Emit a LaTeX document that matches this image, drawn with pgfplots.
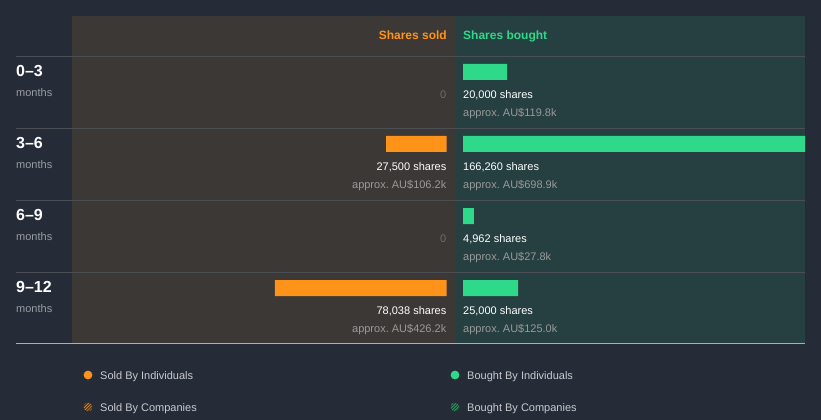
\documentclass[border=0pt]{standalone}
\usepackage{pgfplots}
\pgfplotsset{compat=1.18}
\usepackage{pgfplotstable}
\usepackage{fontspec}
\setmainfont{Liberation Sans}
\usetikzlibrary{patterns}
\frenchspacing
\definecolor{bg}{HTML}{262B38}
\definecolor{soldpanel}{HTML}{3C3835}
\definecolor{boughtpanel}{HTML}{263F40}
\definecolor{sold}{HTML}{FF931A}
\definecolor{bought}{HTML}{2ED98A}
\definecolor{gridc}{HTML}{4B4E54}
\definecolor{base}{HTML}{A8B0B5}
\definecolor{dim}{HTML}{9A9A9A}
\definecolor{zero}{HTML}{6E6E6E}
\definecolor{monthc}{HTML}{9A9DA2}
\definecolor{legtext}{HTML}{C8CACE}
\definecolor{hatchbg}{HTML}{4A3A28}
\definecolor{hatchbgg}{HTML}{234236}

\pgfplotstableread{
row shares
72 0
144 27500
216 0
288 78038
}\soldtable
\pgfplotstableread{
row shares
72 20000
144 166260
216 4962
288 25000
}\boughttable

\newcommand{\fs}[1]{\fontsize{#1bp}{#1bp}\selectfont}

\begin{document}
\begin{tikzpicture}
\useasboundingbox (0,0) rectangle (821bp,420bp);
\fill[bg] (0,0) rectangle (821bp,420bp);
\begin{axis}[at={(0,0)},anchor=south west,scale only axis,width=821bp,height=420bp,
  xmin=0,xmax=821,ymin=0,ymax=420,y dir=reverse,hide axis,clip=false]
  % panels
  \fill[soldpanel] (72,16) rectangle (455,343);
  \fill[boughtpanel] (455,16) rectangle (805,343);
  % grid lines
  \foreach \yy in {56.5,128.5,200.5,272.5}{
    \edef\tmp{\noexpand\draw[gridc,line width=0.8bp] (16,\yy) -- (805,\yy);}\tmp
  }
  \draw[base,line width=0.9bp] (16,343.3) -- (805,343.3);
  % headers
  \node[anchor=base east,inner sep=0,text=sold,font=\fs{12}\bfseries] at (447,39) {Shares sold};
  \node[anchor=base west,inner sep=0,text=bought,font=\fs{12}\bfseries] at (463,39) {Shares bought};
  % row labels
  \node[anchor=base west,inner sep=0,text=white,font=\fs{16}\bfseries] at (16,76) {0–3};
  \node[anchor=base west,inner sep=0,text=white,font=\fs{16}\bfseries] at (16,148) {3–6};
  \node[anchor=base west,inner sep=0,text=white,font=\fs{16}\bfseries] at (16,220) {6–9};
  \node[anchor=base west,inner sep=0,text=white,font=\fs{16}\bfseries] at (16,292) {9–12};
  \node[anchor=base west,inner sep=0,text=monthc,font=\fs{11}] at (16,96) {months};
  \node[anchor=base west,inner sep=0,text=monthc,font=\fs{11}] at (16,168) {months};
  \node[anchor=base west,inner sep=0,text=monthc,font=\fs{11}] at (16,240) {months};
  \node[anchor=base west,inner sep=0,text=monthc,font=\fs{11}] at (16,312) {months};
  % sold texts
  \node[anchor=base east,inner sep=0,text=zero,font=\fs{11}] at (446.5,98) {0};
  \node[anchor=base east,inner sep=0,text=white,font=\fs{11}] at (446.5,170) {27,500 shares};
  \node[anchor=base east,inner sep=0,text=dim,font=\fs{11}] at (446.5,188) {approx. AU\$106.2k};
  \node[anchor=base east,inner sep=0,text=zero,font=\fs{11}] at (446.5,242) {0};
  \node[anchor=base east,inner sep=0,text=white,font=\fs{11}] at (446.5,314) {78,038 shares};
  \node[anchor=base east,inner sep=0,text=dim,font=\fs{11}] at (446.5,332) {approx. AU\$426.2k};
  % bought texts
  \node[anchor=base west,inner sep=0,text=white,font=\fs{11}] at (463,98) {20,000 shares};
  \node[anchor=base west,inner sep=0,text=dim,font=\fs{11}] at (463,116) {approx. AU\$119.8k};
  \node[anchor=base west,inner sep=0,text=white,font=\fs{11}] at (463,170) {166,260 shares};
  \node[anchor=base west,inner sep=0,text=dim,font=\fs{11}] at (463,188) {approx. AU\$698.9k};
  \node[anchor=base west,inner sep=0,text=white,font=\fs{11}] at (463,242) {4,962 shares};
  \node[anchor=base west,inner sep=0,text=dim,font=\fs{11}] at (463,260) {approx. AU\$27.8k};
  \node[anchor=base west,inner sep=0,text=white,font=\fs{11}] at (463,314) {25,000 shares};
  \node[anchor=base west,inner sep=0,text=dim,font=\fs{11}] at (463,332) {approx. AU\$125.0k};
  % legend
  \fill[sold] (88,375) circle[radius=4.4bp];
  \fill[bought] (455,375) circle[radius=4.4bp];
  \fill[hatchbg] (88,407) circle[radius=4.4bp];
  \fill[pattern=north east lines,pattern color=sold] (88,407) circle[radius=4.4bp];
  \fill[hatchbgg] (455,407) circle[radius=4.4bp];
  \fill[pattern=north east lines,pattern color=bought] (455,407) circle[radius=4.4bp];
  \node[anchor=base west,inner sep=0,text=legtext,font=\fs{11}] at (100,379) {Sold By Individuals};
  \node[anchor=base west,inner sep=0,text=legtext,font=\fs{11}] at (100,411) {Sold By Companies};
  \node[anchor=base west,inner sep=0,text=legtext,font=\fs{11}] at (467,379) {Bought By Individuals};
  \node[anchor=base west,inner sep=0,text=legtext,font=\fs{11}] at (467,411) {Bought By Companies};
\end{axis}
% sold axis
\begin{axis}[at={(72bp,76bp)},anchor=south west,scale only axis,width=374.5bp,height=328bp,
  xmin=0,xmax=170227,x dir=reverse,ymin=16,ymax=344,y dir=reverse,hide axis,
  unbounded coords=discard]
  \addplot[xbar,bar width=16,bar shift=0,fill=sold,draw=none,
    x filter/.expression={x==0 ? nan : x}] table[x=shares,y=row]{\soldtable};
\end{axis}
% bought axis
\begin{axis}[at={(463bp,76bp)},anchor=south west,scale only axis,width=342bp,height=328bp,
  xmin=0,xmax=155455,ymin=16,ymax=344,y dir=reverse,hide axis,
  unbounded coords=discard]
  \addplot[xbar,bar width=16,bar shift=0,fill=bought,draw=none,
    x filter/.expression={x==0 ? nan : x}] table[x=shares,y=row]{\boughttable};
\end{axis}
\end{tikzpicture}
\end{document}
